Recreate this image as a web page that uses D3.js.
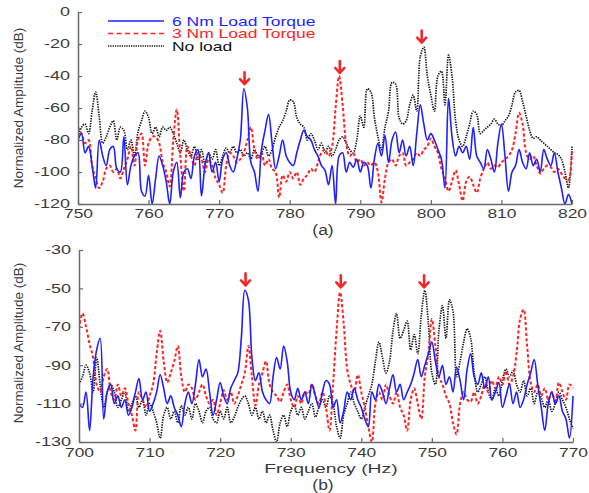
<!DOCTYPE html>
<html><head><meta charset="utf-8">
<script src="https://cdn.jsdelivr.net/npm/d3@7"></script>
<style>
html,body{margin:0;padding:0;background:#fff;}
svg{display:block;font-family:"Liberation Sans",Arial,sans-serif;}
</style></head>
<body><svg id="c" width="589" height="493"></svg>
<script>
// ---------- DATA ----------
const seriesNames = ["6 Nm Load Torque", "3 Nm Load Torque", "No load"];
const stepHz = 0.5;
// Panel (a): 750..820 Hz
const startA = 750;
const blueA = [
-80,-76,-88,-84,-96,-110,-80,-90,-96,-86,-84,-98,-100,-78,-108,-96,-90,-88,-112,-115,
-102,-120,-104,-90,-96,-106,-120,-100,-94,-116,-100,-98,-104,-90,-86,-115,-96,-88,-100,-94,
-106,-92,-88,-96,-100,-92,-80,-48,-60,-94,-100,-112,-86,-74,-64,-82,-98,-90,-80,-90,
-94,-96,-88,-80,-74,-78,-80,-86,-90,-96,-99,-108,-96,-120,-90,-88,-100,-94,-97,-92,
-100,-94,-96,-110,-92,-82,-90,-77,-94,-80,-75,-88,-80,-90,-84,-96,-76,-58,-70,-80,
-76,-80,-86,-92,-110,-54,-78,-90,-84,-88,-84,-92,-72,-90,-94,-98,-86,-92,-100,-82,
-70,-90,-112,-100,-96,-86,-94,-98,-88,-96,-92,-100,-86,-92,-96,-88,-100,-110,-120,-114,-120];
const redA = [
-72,-76,-82,-80,-96,-104,-110,-106,-98,-96,-100,-98,-104,-98,-92,-84,-96,-80,-76,-96,
-82,-78,-78,-82,-94,-100,-109,-80,-61,-90,-112,-84,-90,-96,-88,-92,-100,-92,-96,-104,
-108,-113,-96,-88,-90,-94,-92,-88,-80,-72,-86,-92,-88,-96,-92,-98,-100,-116,-102,-106,
-100,-104,-100,-108,-104,-102,-98,-100,-94,-88,-86,-90,-84,-60,-40,-58,-82,-90,-88,-94,
-92,-96,-94,-96,-94,-100,-119,-104,-94,-92,-96,-90,-88,-96,-94,-92,-88,-90,-86,-84,
-79,-84,-88,-98,-104,-112,-106,-99,-108,-118,-106,-103,-108,-113,-104,-98,-94,-98,-96,-97,
-94,-92,-90,-86,-76,-63,-70,-88,-92,-90,-96,-101,-98,-96,-97,-100,-98,-101,-104,-105,-86];
const blackA = [
-78,-72,-70,-76,-62,-50,-65,-82,-78,-72,-68,-80,-72,-74,-86,-80,-90,-75,-68,-62,
-66,-76,-72,-78,-72,-74,-72,-76,-82,-88,-80,-86,-90,-84,-92,-86,-95,-88,-92,-86,
-96,-90,-85,-88,-84,-88,-86,-90,-88,-92,-86,-90,-88,-84,-90,-86,-78,-72,-68,-62,
-55,-56,-66,-70,-72,-80,-76,-80,-86,-82,-88,-84,-90,-86,-80,-78,-82,-86,-88,-80,
-65,-72,-48,-50,-66,-78,-86,-72,-62,-44,-45,-66,-70,-68,-58,-52,-62,-28,-22,-40,
-52,-62,-40,-37,-58,-27,-40,-68,-80,-84,-78,-70,-62,-64,-76,-74,-72,-70,-67,-70,
-71,-68,-65,-58,-50,-49,-56,-65,-74,-79,-78,-80,-82,-84,-86,-88,-89,-92,-100,-110,-84];
// Panel (b): 700..770 Hz
const startB = 700;
const blueB = [
-110,-112,-104,-124,-96,-82,-76,-118,-104,-100,-110,-106,-112,-108,-116,-112,-104,-97,-108,-104,
-114,-110,-104,-95,-102,-110,-106,-112,-116,-122,-110,-104,-110,-100,-87,-96,-92,-104,-116,-108,
-99,-106,-110,-102,-98,-94,-76,-51,-56,-86,-98,-94,-104,-108,-110,-96,-86,-92,-80,-88,
-104,-108,-102,-108,-104,-110,-100,-106,-112,-104,-98,-100,-112,-108,-120,-114,-104,-108,-102,-108,
-112,-118,-122,-104,-108,-100,-104,-110,-102,-95,-104,-100,-108,-104,-100,-94,-87,-96,-90,-84,
-78,-88,-96,-90,-100,-96,-104,-91,-98,-108,-92,-84,-96,-100,-94,-102,-96,-108,-104,-99,
-112,-106,-100,-110,-104,-112,-108,-100,-94,-87,-100,-112,-124,-110,-104,-110,-106,-114,-118,-128,-106];
const redB = [
-71,-63,-70,-79,-86,-100,-104,-96,-92,-104,-108,-100,-106,-102,-110,-116,-124,-104,-108,-112,
-106,-100,-84,-72,-88,-99,-94,-88,-80,-96,-104,-100,-102,-108,-104,-100,-106,-110,-108,-116,
-110,-103,-108,-104,-110,-106,-100,-94,-80,-96,-111,-100,-94,-88,-100,-104,-106,-109,-104,-100,
-108,-112,-106,-110,-104,-105,-100,-106,-110,-104,-112,-124,-100,-72,-52,-68,-92,-100,-104,-95,
-104,-112,-122,-130,-110,-104,-108,-100,-106,-110,-104,-112,-116,-124,-108,-102,-110,-118,-96,-84,
-66,-80,-96,-100,-106,-110,-120,-126,-110,-104,-108,-109,-104,-110,-106,-100,-104,-98,-102,-96,
-100,-93,-100,-96,-84,-66,-61,-80,-99,-104,-100,-106,-102,-108,-104,-110,-99,-104,-108,-100,-102];
const blackB = [
-100,-96,-90,-94,-104,-86,-100,-112,-104,-100,-104,-112,-108,-104,-114,-110,-106,-112,-108,-116,
-110,-114,-120,-128,-116,-112,-118,-114,-120,-111,-116,-112,-118,-110,-114,-120,-114,-112,-118,-120,
-114,-118,-112,-120,-117,-112,-108,-106,-110,-116,-112,-118,-114,-120,-116,-124,-130,-120,-116,-122,
-114,-111,-116,-112,-118,-114,-110,-117,-112,-108,-112,-106,-110,-122,-128,-116,-110,-104,-110,-114,
-118,-112,-106,-100,-88,-78,-86,-94,-88,-72,-63,-76,-72,-67,-82,-74,-84,-64,-51,-68,
-94,-100,-72,-59,-76,-56,-62,-96,-88,-78,-71,-76,-94,-104,-100,-96,-104,-108,-102,-106,
-98,-92,-96,-93,-100,-104,-98,-106,-102,-110,-104,-107,-112,-108,-114,-110,-104,-108,-112,-118,-123];
// Tick labels
const xTicksA = [750,760,770,780,790,800,810,820];
const yTicksA = [0,-20,-40,-60,-80,-100,-120];
const xTicksB = [700,710,720,730,740,750,760,770];
const yTicksB = [-30,-50,-70,-90,-110,-130];
// Arrow markers (frequency, peak amplitude)
const arrowFreqA = [773.6, 787.1, 798.7];
const arrowAmpA  = [-47, -40, -21];
const arrowFreqB = [723.6, 737.1, 748.9];
const arrowAmpB  = [-50, -51, -51];

// ---------- DRAW ----------
const svg = d3.select("#c");
const colors = ["#1f1fff", "#ff2424", "#1a1a1a"];
const dashes = [null, "3.2,2.2", "1.4,1.1"];
const widths = [1.6, 2.0, 1.7];

function stretchText(g, x, y, txt, size, sx, anchor, color){
  return g.append("text")
    .attr("transform", `translate(${x},${y}) scale(${sx},1)`)
    .attr("text-anchor", anchor).attr("font-size", size)
    .attr("fill", color).text(txt);
}

function panel(cfg){
  const x = d3.scaleLinear().domain(cfg.xDom).range([cfg.left, cfg.right]);
  const y = d3.scaleLinear().domain(cfg.yDom).range([cfg.bottom, cfg.top]);
  const clipId = "clip" + cfg.id;
  svg.append("clipPath").attr("id", clipId).append("rect")
    .attr("x", cfg.left).attr("y", cfg.top - 1)
    .attr("width", cfg.right - cfg.left + 1).attr("height", cfg.bottom - cfg.top + 1);

  const plot = svg.append("g").attr("clip-path", `url(#${clipId})`);
  const line = d3.line()
    .x((d,i) => x(cfg.start + i*stepHz))
    .y(d => y(d))
    .curve(d3.curveCatmullRom.alpha(0.5));
  // draw order: black, red, blue on top
  [2,1,0].forEach(k => {
    plot.append("path").datum(cfg.series[k])
      .attr("d", line).attr("fill","none")
      .attr("stroke", colors[k]).attr("stroke-width", widths[k])
      .attr("stroke-dasharray", dashes[k])
      .attr("stroke-linejoin","round");
  });

  // axes
  const axColor = "#6a6a6a";
  const gx = svg.append("g").attr("transform", `translate(0,${cfg.bottom})`)
    .call(d3.axisBottom(x).tickValues(cfg.xTicks).tickSize(-4).tickSizeOuter(0).tickPadding(cfg.xPad).tickFormat(d3.format("d")));
  const gy = svg.append("g").attr("transform", `translate(${cfg.left},0)`)
    .call(d3.axisLeft(y).tickValues(cfg.yTicks).tickSize(-4).tickSizeOuter(0).tickPadding(5.4).tickFormat(d => d === 0 ? "0" : "-" + Math.abs(d)));
  [gx, gy].forEach(g => {
    g.select(".domain").attr("stroke", axColor).attr("stroke-width", 1.5);
    g.selectAll(".tick line").attr("stroke", axColor).attr("stroke-width", 1.2);
    g.selectAll(".tick text").attr("font-size", 12).attr("fill", "#3c3c3c")
      .attr("font-family", '"Liberation Sans",Arial,sans-serif');
  });
  gy.selectAll(".tick text").attr("transform", "scale(1.5,1)");
  gx.selectAll(".tick text").attr("transform", "scale(1.45,1)");

  // y title
  svg.append("text")
    .attr("transform", `translate(23,${cfg.titleY}) rotate(-90)`)
    .attr("text-anchor","middle").attr("font-size", 13.5).attr("fill","#3c3c3c")
    .text("Normalized Amplitude (dB)");

  // arrows
  const ag = svg.append("g").attr("stroke", "#f0282c").attr("stroke-width", 2.6)
    .attr("fill","none").attr("stroke-linecap","round").attr("stroke-linejoin","round");
  cfg.arrowF.forEach((f,i) => {
    const ax = x(f), tip = y(cfg.arrowA[i]) - 3;
    ag.append("path").attr("d", `M${ax},${tip-12} L${ax},${tip} M${ax-4.5},${tip-5} L${ax},${tip} L${ax+4.5},${tip-5}`);
  });

  // caption
  stretchText(svg, 323, cfg.capY, cfg.caption, 14.5, 1.2, "middle", "#3c3c3c");
  return {x, y};
}

panel({id:"A", xDom:[750,820], yDom:[-120,0], left:78, right:572, top:12, bottom:204,
  start:startA, series:[blueA, redA, blackA], xTicks:xTicksA, yTicks:yTicksA, xPad:5.5,
  titleY:108, arrowF:arrowFreqA, arrowA:arrowAmpA, caption:"(a)", capY:235});
panel({id:"B", xDom:[700,770], yDom:[-130,-30], left:79, right:573, top:250, bottom:442,
  start:startB, series:[blueB, redB, blackB], xTicks:xTicksB, yTicks:yTicksB, xPad:6.5,
  titleY:343, arrowF:arrowFreqB, arrowA:arrowAmpB, caption:"(b)", capY:490});

// x title
stretchText(svg, 331, 473, "Frequency (Hz)", 12.5, 1.55, "middle", "#3c3c3c");

// legend
const lg = svg.append("g");
seriesNames.forEach((name, i) => {
  const yy = 21 + i*12.5;
  lg.append("line").attr("x1",108).attr("x2",164).attr("y1",yy).attr("y2",yy)
    .attr("stroke", colors[i]).attr("stroke-width", i===2 ? 1.4 : 1.6)
    .attr("stroke-dasharray", i===1 ? "5,3.5" : (i===2 ? "1.3,1" : null));
  stretchText(lg, 172, yy + 4.5, name, 12.5, 1.4, "start", i===2 ? "#111" : colors[i]);
});
</script></body></html>
